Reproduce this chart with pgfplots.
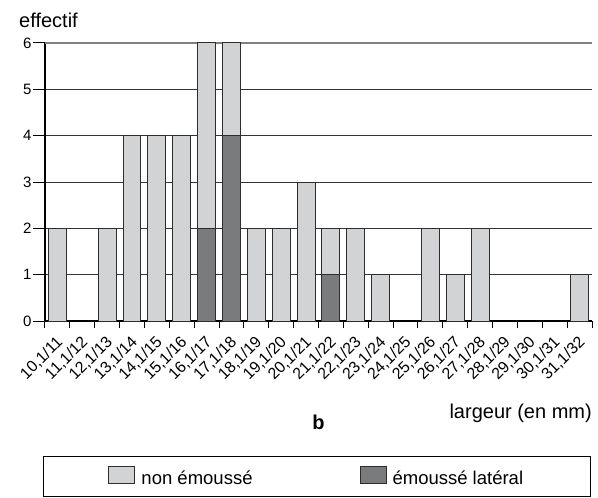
\documentclass[border=0pt]{standalone}
\usepackage{pgfplots}
\pgfplotsset{compat=1.18}
\usepackage{fontspec}
\setmainfont{Liberation Sans}
\definecolor{lightbar}{RGB}{210,211,213}
\definecolor{darkbar}{RGB}{122,123,125}
\definecolor{edge}{RGB}{45,45,45}
\newcommand{\myYTickFont}{\fontsize{15}{18}\selectfont}
\newcommand{\myXTickFont}{\fontsize{16}{19}\selectfont}
\newcommand{\myLabelFont}{\fontsize{20}{24}\selectfont}
\newcommand{\myLegendFont}{\fontsize{18.5}{22}\selectfont}
\begin{document}
\begin{tikzpicture}
\begin{axis}[
  name=ax,
  scale only axis,
  clip=false,
  width=547pt, height=278pt,
  xmin=9.5, xmax=31.5, ymin=0, ymax=6,
  axis x line*=bottom, axis y line*=left,
  axis line style={black, line width=1.1pt},
  ytick={0,1,...,5},
  extra y ticks={6},
  extra y tick style={grid style={black!50, line width=2pt}},
  minor ytick={0,1,...,6},
  ymajorgrids,
  grid style={black!80, line width=1pt},
  tick align=outside,
  major tick length=7pt,
  minor tick length=12pt,
  tick style={black, line width=1pt},
  xtick={9.5,10.5,...,31.5},
  x tick label as interval,
  xticklabels={{10,1/11},{11,1/12},{12,1/13},{13,1/14},{14,1/15},{15,1/16},{16,1/17},{17,1/18},{18,1/19},{19,1/20},{20,1/21},{21,1/22},{22,1/23},{23,1/24},{24,1/25},{25,1/26},{26,1/27},{27,1/28},{28,1/29},{29,1/30},{30,1/31},{31,1/32}},
  xticklabel style={xshift=3.5pt, yshift=-11pt, rotate=45, anchor=east, font=\myXTickFont, inner sep=1pt},
  yticklabel style={font=\myYTickFont, xshift=-3pt},
  /pgf/number format/assume math mode=true,
  ybar, bar width=0.72, bar shift=0pt,
  legend columns=2,
  legend style={at={(0,0)}, anchor=north west, xshift=-2pt, yshift=-135pt,
    draw=black, line width=1pt, inner xsep=65pt, inner ysep=9pt,
    font=\myLegendFont,
    /tikz/every odd column/.append style={column sep=4pt},
    /tikz/every even column/.append style={column sep=105pt}},
  legend image code/.code={\draw[#1, line width=1pt] (0pt,-5pt) rectangle (26pt,12pt);},
]
\addplot[fill=lightbar, draw=edge, line width=1pt] coordinates {
  (10,2) (12,2) (13,4) (14,4) (15,4) (16,6) (17,6) (18,2) (19,2) (20,3)
  (21,2) (22,2) (23,1) (25,2) (26,1) (27,2) (31,1)};
\addlegendentry{non émoussé}
\addplot[fill=darkbar, draw=edge, line width=1pt] coordinates {
  (16,2) (17,4) (21,1)};
\addlegendentry{émoussé latéral}
\node[anchor=west, font=\myLabelFont, inner sep=0pt] at (rel axis cs:0,1) [xshift=-26pt, yshift=23pt] {effectif};
\node[anchor=east, font=\myLabelFont, inner sep=0pt] at (rel axis cs:1,0) [yshift=-92pt] {largeur (en mm)};
\node[font=\myLabelFont\bfseries, inner sep=0pt] at (rel axis cs:0.5,0) [yshift=-101pt] {b};
\end{axis}
\pgfresetboundingbox
\useasboundingbox (-45pt,-177pt) rectangle (553pt,321pt);
\end{tikzpicture}
\end{document}
